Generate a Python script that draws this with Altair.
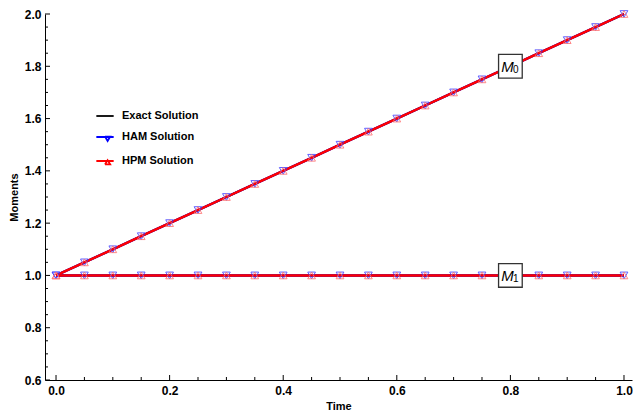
import altair as alt
import pandas as pd

# Sample times and moment values for each solution
t = [0.00, 0.05, 0.10, 0.15, 0.20, 0.25, 0.30, 0.35, 0.40, 0.45, 0.50,
     0.55, 0.60, 0.65, 0.70, 0.75, 0.80, 0.85, 0.90, 0.95, 1.00]
m0_exact = [1.00, 1.05, 1.10, 1.15, 1.20, 1.25, 1.30, 1.35, 1.40, 1.45, 1.50,
            1.55, 1.60, 1.65, 1.70, 1.75, 1.80, 1.85, 1.90, 1.95, 2.00]
m1_exact = [1.00] * 21
m0_ham = [1.00, 1.05, 1.10, 1.15, 1.20, 1.25, 1.30, 1.35, 1.40, 1.45, 1.50,
          1.55, 1.60, 1.65, 1.70, 1.75, 1.80, 1.85, 1.90, 1.95, 2.00]
m1_ham = [1.00] * 21
m0_hpm = [1.00, 1.05, 1.10, 1.15, 1.20, 1.25, 1.30, 1.35, 1.40, 1.45, 1.50,
          1.55, 1.60, 1.65, 1.70, 1.75, 1.80, 1.85, 1.90, 1.95, 2.00]
m1_hpm = [1.00] * 21

methods = ["Exact Solution", "HAM Solution", "HPM Solution"]
line_colors = ["#000000", "#0000ff", "#ff0000"]

# Boxed curve labels
label_t = [0.8, 0.8]
label_m = [1.8, 1.0]
label_sub = ["0", "1"]

# Axis tick positions
x_major = [0.0, 0.2, 0.4, 0.6, 0.8, 1.0]
x_minor = [0.05, 0.10, 0.15, 0.25, 0.30, 0.35, 0.45, 0.50, 0.55,
           0.65, 0.70, 0.75, 0.85, 0.90, 0.95]
y_major = [0.6, 0.8, 1.0, 1.2, 1.4, 1.6, 1.8, 2.0]
y_minor = [0.65, 0.70, 0.75, 0.85, 0.90, 0.95, 1.05, 1.10, 1.15, 1.25, 1.30,
           1.35, 1.45, 1.50, 1.55, 1.65, 1.70, 1.75, 1.85, 1.90, 1.95]

W, H = 587, 366

rows = []
for name, m0, m1 in [("Exact Solution", m0_exact, m1_exact),
                     ("HAM Solution", m0_ham, m1_ham),
                     ("HPM Solution", m0_hpm, m1_hpm)]:
    for ti, a, b in zip(t, m0, m1):
        rows.append({"method": name, "moment": "M0", "t": ti, "M": a})
        rows.append({"method": name, "moment": "M1", "t": ti, "M": b})
df = pd.DataFrame(rows)

labels = pd.DataFrame({"t": label_t, "M": label_m, "sub": label_sub})

x_scale = alt.Scale(domain=[-0.0194, 1.0141], nice=False, zero=False)
y_scale = alt.Scale(domain=[0.6, 2.0], nice=False, zero=False)

x_enc = alt.X("t:Q", scale=x_scale, title="Time",
              axis=alt.Axis(values=x_major, format=".1f", ticks=False, grid=False,
                            labelPadding=5, titlePadding=4))
y_enc = alt.Y("M:Q", scale=y_scale, title="Moments",
              axis=alt.Axis(values=y_major, format=".1f", ticks=False, grid=False,
                            labelPadding=4, titlePadding=5))

color_scale = alt.Scale(domain=methods, range=line_colors)
# Legend symbols: a short line plus a hollow triangle (the outline is traced
# forward and back so the enclosed area has zero winding and stays unfilled)
legend_paths = [
    "M-1,0L1,0",
    "M-1,0L1,0M0,-0.05L0.6,-0.05L0.3,0.45L0,-0.05L0.3,0.45L0.6,-0.05Z",
    "M-1,0L1,0M0,0.4L0.6,0.4L0.3,-0.1L0,0.4L0.3,-0.1L0.6,0.4Z",
]
legend_def = alt.Legend(orient="none", legendX=50, legendY=92, padding=0,
                        symbolSize=300, symbolStrokeWidth=1.8, rowPadding=6,
                        labelOffset=7, labelFontSize=11, labelFontWeight="bold",
                        labelColor="black", symbolFillColor="transparent")
color_enc = alt.Color("method:N", scale=color_scale, title=None, legend=legend_def)

base = alt.Chart(df)

# Invisible layer that carries the legend symbols (line + marker)
legend_layer = base.mark_point(filled=False, opacity=0).encode(
    x=x_enc, y=y_enc,
    color=color_enc,
    shape=alt.Shape("method:N", scale=alt.Scale(domain=methods, range=legend_paths),
                    title=None),
)

line_layers = []
for name, width in zip(methods, [2.0, 2.4, 2.4]):
    line_layers.append(
        base.transform_filter(alt.datum.method == name)
        .mark_line(strokeWidth=width)
        .encode(x="t:Q", y="M:Q", detail="moment:N", color=color_enc)
    )

ham_pts = base.transform_filter(alt.datum.method == "HAM Solution").mark_point(
    shape="triangle-down", filled=False, size=60, strokeWidth=1,
    color="#3a3aff", opacity=0.8
).encode(x="t:Q", y="M:Q")

hpm_pts = base.transform_filter(alt.datum.method == "HPM Solution").mark_point(
    shape="triangle-up", filled=False, size=60, strokeWidth=1,
    color="#ff6a6a", opacity=0.8
).encode(x="t:Q", y="M:Q")

boxes = alt.Chart(labels).mark_square(
    size=560, fill="white", stroke="#333333", strokeWidth=1.3, opacity=1
).encode(x="t:Q", y="M:Q")

m_text = alt.Chart(labels).mark_text(
    text="M", fontStyle="italic", fontSize=15, align="center",
    baseline="alphabetic", dx=-3, dy=5.3, color="black"
).encode(x="t:Q", y="M:Q")

sub_text = alt.Chart(labels).mark_text(
    fontSize=10, align="center", baseline="alphabetic", dx=5.5, dy=6.3,
    color="black"
).encode(x="t:Q", y="M:Q", text="sub:N")

# Inward-pointing major and minor axis ticks
x_major_ticks = alt.Chart(pd.DataFrame({"v": x_major})).mark_rule(
    color="black", strokeWidth=1
).encode(x=alt.X("v:Q", scale=x_scale), y=alt.value(H), y2=alt.value(H - 5))
x_minor_ticks = alt.Chart(pd.DataFrame({"v": x_minor})).mark_rule(
    color="black", strokeWidth=1
).encode(x=alt.X("v:Q", scale=x_scale), y=alt.value(H), y2=alt.value(H - 3))
y_major_ticks = alt.Chart(pd.DataFrame({"w": y_major})).mark_rule(
    color="black", strokeWidth=1
).encode(y=alt.Y("w:Q", scale=y_scale), x=alt.value(0), x2=alt.value(5))
y_minor_ticks = alt.Chart(pd.DataFrame({"w": y_minor})).mark_rule(
    color="black", strokeWidth=1
).encode(y=alt.Y("w:Q", scale=y_scale), x=alt.value(0), x2=alt.value(3))

chart = alt.layer(
    legend_layer, *line_layers, ham_pts, hpm_pts, boxes, m_text, sub_text,
    x_major_ticks, x_minor_ticks, y_major_ticks, y_minor_ticks
).properties(
    width=W, height=H,
    autosize=alt.AutoSizeParams(type="none"),
    padding={"left": 45, "top": 14, "right": 1, "bottom": 36},
).configure(
    font="Liberation Sans", background="white"
).configure_view(
    stroke=None
).configure_axis(
    domainColor="black", domainWidth=1, labelFontSize=12, labelFontWeight="bold",
    labelColor="black", titleFontSize=11, titleFontWeight="bold", titleColor="black",
)

chart.save("out.html", embed_options={"renderer": "svg", "actions": False})
